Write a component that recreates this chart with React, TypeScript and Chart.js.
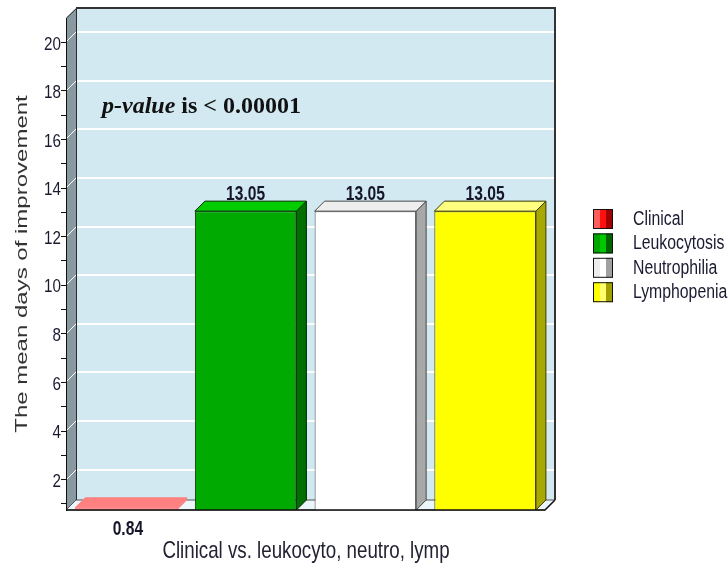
import React, { useEffect, useRef } from 'react';
import { Chart, registerables } from 'chart.js';
Chart.register(...registerables);

// ---------- data ----------
const categories = ['Clinical', 'Leukocytosis', 'Neutrophilia', 'Lymphopenia'];
const meanDays = [0.84, 13.05, 13.05, 13.05];
const valueLabels = ['0.84', '13.05', '13.05', '13.05'];
const yTickValues = [1, 2, 3, 4, 5, 6, 7, 8, 9, 10, 11, 12, 13, 14, 15, 16, 17, 18, 19, 20];
const yLabelValues = [2, 4, 6, 8, 10, 12, 14, 16, 18, 20];
const yLabelTexts = ['2', '4', '6', '8', '10', '12', '14', '16', '18', '20'];
const yMin = 0.75;
const yMax = 21;
const yTitle = 'The mean days of improvement';
const xTitle = 'Clinical vs. leukocyto, neutro, lymp';
const pItalic = 'p-value';
const pRest = ' is < 0.00001';

// ---------- styles ----------
const frontColors = ['#ff8080', '#00aa00', '#ffffff', '#ffff00'];
const topColors = ['#ff8080', '#00cc00', '#eeeeee', '#ffff80'];
const sideColors = ['#ff8080', '#006e00', '#a8a8a8', '#a8a800'];
const edgeColors = ['#ff8080', '#002a00', '#4a4a4a', '#3a3a00'];
const legendLight = ['#ff5c5c', '#00a600', '#ececec', '#ffff00'];
const legendMid = ['#ff1010', '#00c800', '#ffffff', '#ffff70'];
const legendDark = ['#a00000', '#006400', '#a0a0a0', '#a0a000'];

const D = 10;
const SX = 0.78;

function drawText(
  ctx: CanvasRenderingContext2D,
  s: string,
  x: number,
  y: number,
  font: string,
  color: string,
  align: CanvasTextAlign,
  baseline: CanvasTextBaseline,
  sx: number,
  rot = 0
) {
  ctx.save();
  ctx.translate(x, y);
  if (rot) {
    ctx.rotate(rot);
    ctx.scale(1, sx);
  } else {
    ctx.scale(sx, 1);
  }
  ctx.font = font;
  ctx.fillStyle = color;
  ctx.textAlign = align;
  ctx.textBaseline = baseline;
  ctx.fillText(s, 0, 0);
  ctx.restore();
}

const pseudo3d = {
  id: 'pseudo3d',
  beforeDraw(chart: any) {
    const { ctx, chartArea: a, scales } = chart;
    const ys = scales.y;
    ctx.save();
    // back wall
    ctx.fillStyle = '#d2e9f1';
    ctx.fillRect(a.left + D, a.top - D, a.right - a.left, a.bottom - a.top);
    // left wall
    ctx.beginPath();
    ctx.moveTo(a.left, a.top);
    ctx.lineTo(a.left + D, a.top - D);
    ctx.lineTo(a.left + D, a.bottom - D);
    ctx.lineTo(a.left, a.bottom);
    ctx.closePath();
    ctx.fillStyle = '#8a999f';
    ctx.fill();
    // floor
    ctx.beginPath();
    ctx.moveTo(a.left, a.bottom);
    ctx.lineTo(a.left + D, a.bottom - D);
    ctx.lineTo(a.right + D, a.bottom - D);
    ctx.lineTo(a.right, a.bottom);
    ctx.closePath();
    ctx.fillStyle = '#eaf6fa';
    ctx.fill();
    ctx.strokeStyle = '#555';
    ctx.lineWidth = 1;
    ctx.stroke();
    // grid lines on back wall and left wall
    ctx.strokeStyle = '#ffffff';
    ctx.lineWidth = 2;
    for (const v of yLabelValues) {
      const py = Math.round(ys.getPixelForValue(v) - D);
      ctx.beginPath();
      ctx.moveTo(a.left + D, py);
      ctx.lineTo(a.right + D, py);
      ctx.stroke();
      ctx.beginPath();
      ctx.lineWidth = 1;
      ctx.moveTo(a.left + D, py);
      ctx.lineTo(a.left + 1, py + D - 1);
      ctx.stroke();
      ctx.lineWidth = 2;
    }
    // outlines
    ctx.strokeStyle = '#2a2a2a';
    ctx.lineWidth = 1;
    ctx.beginPath();
    ctx.moveTo(a.left + 0.5, a.top);
    ctx.lineTo(a.left + D + 0.5, a.top - D + 0.5);
    ctx.lineTo(a.left + D + 0.5, a.bottom - D);
    ctx.stroke();
    ctx.strokeStyle = '#333';
    ctx.lineWidth = 2;
    ctx.beginPath();
    ctx.moveTo(a.left + D, a.top - D);
    ctx.lineTo(a.right + D, a.top - D);
    ctx.lineTo(a.right + D, a.bottom - D);
    ctx.stroke();
    ctx.restore();
  },
  afterDatasetsDraw(chart: any) {
    const { ctx, chartArea: a } = chart;
    const meta = chart.getDatasetMeta(0);
    ctx.save();
    meta.data.forEach((bar: any, i: number) => {
      const p = bar.getProps(['x', 'y', 'width', 'base'], true);
      const x0 = p.x - p.width / 2;
      const x1 = p.x + p.width / 2;
      const yt = Math.min(Math.min(p.y, p.base), a.bottom - 1);
      const yb = a.bottom;
      ctx.lineWidth = 1;
      ctx.strokeStyle = edgeColors[i];
      // side face
      ctx.beginPath();
      ctx.moveTo(x1, yt);
      ctx.lineTo(x1 + D, yt - D);
      ctx.lineTo(x1 + D, yb - D);
      ctx.lineTo(x1, yb);
      ctx.closePath();
      ctx.fillStyle = sideColors[i];
      ctx.fill();
      ctx.stroke();
      // top face
      ctx.beginPath();
      ctx.moveTo(x0, yt);
      ctx.lineTo(x1, yt);
      ctx.lineTo(x1 + D, yt - D);
      ctx.lineTo(x0 + D, yt - D);
      ctx.closePath();
      ctx.fillStyle = topColors[i];
      ctx.fill();
      ctx.stroke();
      // value label
      const font = 'bold 20px "Liberation Sans", Arial, sans-serif';
      if (meanDays[i] > yMin + 1) {
        drawText(ctx, valueLabels[i], p.x, yt - 11, font, '#16162a', 'center', 'alphabetic', SX);
      } else {
        drawText(ctx, valueLabels[i], p.x + 2, yb + 25, font, '#16162a', 'center', 'alphabetic', SX);
      }
    });
    // front floor edge
    ctx.strokeStyle = '#111';
    ctx.lineWidth = 1.5;
    ctx.beginPath();
    ctx.moveTo(a.left, a.bottom);
    ctx.lineTo(a.right, a.bottom);
    ctx.lineTo(a.right + D, a.bottom - D);
    ctx.stroke();
    ctx.restore();
  },
  afterDraw(chart: any) {
    const { ctx, chartArea: a, scales } = chart;
    const ys = scales.y;
    // y tick labels
    yLabelValues.forEach((v, i) => {
      drawText(ctx, yLabelTexts[i], a.left - 5, ys.getPixelForValue(v) + 2,
        '19px "Liberation Sans", Arial, sans-serif', '#1a1a30', 'right', 'middle', 0.8);
    });
    // axis titles
    drawText(ctx, yTitle, 22, (a.top + a.bottom) / 2, '24px "Liberation Sans", Arial, sans-serif',
      '#333333', 'center', 'middle', 0.7, -Math.PI / 2);
    drawText(ctx, xTitle, 306, 558, '24px "Liberation Sans", Arial, sans-serif',
      '#222233', 'center', 'alphabetic', SX);
    // p-value annotation
    ctx.save();
    ctx.fillStyle = '#111';
    ctx.textBaseline = 'alphabetic';
    ctx.textAlign = 'left';
    ctx.font = 'italic bold 24px "Liberation Serif", "Times New Roman", serif';
    ctx.fillText(pItalic, 102, 113);
    const w = ctx.measureText(pItalic).width;
    ctx.font = 'bold 24px "Liberation Serif", "Times New Roman", serif';
    ctx.fillText(pRest, 102 + w, 113);
    ctx.restore();
    // legend
    ctx.save();
    categories.forEach((c, i) => {
      const bx = 593;
      const by = 209 + i * 24.4;
      ctx.fillStyle = legendLight[i];
      ctx.fillRect(bx, by, 7, 20);
      ctx.fillStyle = legendMid[i];
      ctx.fillRect(bx + 7, by, 6, 20);
      ctx.fillStyle = legendDark[i];
      ctx.fillRect(bx + 13, by, 7, 20);
      ctx.strokeStyle = '#111';
      ctx.lineWidth = 1;
      ctx.strokeRect(bx + 0.5, by + 0.5, 19, 19);
      drawText(ctx, c, 633, by + 10.5, '20px "Liberation Sans", Arial, sans-serif', '#1a1a30', 'left', 'middle', 0.79);
    });
    ctx.restore();
  },
};

export default function App() {
  const ref = useRef<HTMLCanvasElement>(null);
  useEffect(() => {
    if (!ref.current) return;
    const chart = new Chart(ref.current, {
      type: 'bar',
      data: {
        labels: categories,
        datasets: [
          {
            data: meanDays,
            backgroundColor: frontColors,
            borderColor: edgeColors,
            borderWidth: 1,
            borderSkipped: false,
            categoryPercentage: 1,
            barPercentage: 0.848,
          },
        ],
      },
      options: {
        responsive: false,
        animation: false,
        devicePixelRatio: 1,
        layout: { padding: { left: 0, top: 18, right: 183, bottom: 0 } },
        plugins: { legend: { display: false }, tooltip: { enabled: false } },
        scales: {
          x: {
            ticks: { display: false },
            grid: { display: false },
            border: { display: false },
            afterFit: (s: any) => {
              s.height = 54;
            },
          },
          y: {
            min: yMin,
            max: yMax,
            ticks: { display: false },
            afterBuildTicks: (s: any) => {
              s.ticks = yTickValues.map((v) => ({ value: v }));
            },
            grid: { drawOnChartArea: false, drawTicks: true, tickLength: 5, color: '#111' },
            border: { display: true, color: '#111' },
            afterFit: (s: any) => {
              s.width = 66;
            },
          },
        },
      },
      plugins: [pseudo3d],
    });
    return () => chart.destroy();
  }, []);
  return (
    <div style={{ position: 'fixed', left: 0, top: 0, width: 728, height: 564, background: '#fff' }}>
      <canvas ref={ref} width={728} height={564} style={{ display: 'block' }} />
    </div>
  );
}
